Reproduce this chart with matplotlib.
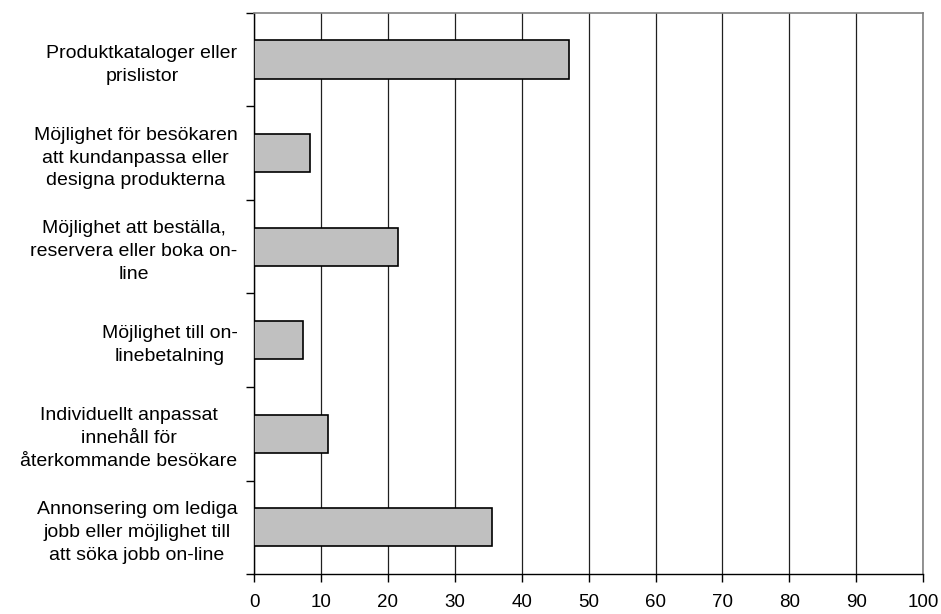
import matplotlib
matplotlib.use("Agg")
import matplotlib.pyplot as plt
import numpy as np

# Categories (top to bottom) and percentage values
categories = [
  "Produktkataloger eller\nprislistor",
  "Möjlighet för besökaren\natt kundanpassa eller\ndesigna produkterna",
  "Möjlighet att beställa,\nreservera eller boka on-\nline",
  "Möjlighet till on-\nlinebetalning",
  "Individuellt anpassat\ninnehåll för\nåterkommande besökare",
  "Annonsering om lediga\njobb eller möjlighet till\natt söka jobb on-line",
]
values = [47.0, 8.4, 21.5, 7.3, 11.1, 35.5]
xticks = [0, 10, 20, 30, 40, 50, 60, 70, 80, 90, 100]

plt.rcParams['font.family'] = ['Liberation Sans', 'DejaVu Sans']

fig = plt.figure(figsize=(9.41, 6.14), dpi=100)
ax = fig.add_axes([0.270, 0.065, 0.711, 0.914])

y = np.arange(len(categories))
ax.barh(y, values, height=0.41, color="#c0c0c0", edgecolor="black", linewidth=1.2, zorder=3)

ax.set_xlim(0, 100)
ax.set_ylim(len(categories) - 0.5, -0.5)
ax.set_xticks(xticks)
ax.set_xticklabels([str(t) for t in xticks], fontsize=13.5)
ax.xaxis.grid(True, color="#202020", linewidth=0.9, zorder=0)

ax.set_yticks(y)
ax.set_yticklabels(categories, fontsize=14, multialignment="center", linespacing=1.45)
ax.set_yticks(np.arange(len(categories) + 1) - 0.5, minor=True)
ax.tick_params(axis="y", which="major", length=0, pad=12)
ax.tick_params(axis="y", which="minor", length=6, width=1, direction="out")
ax.tick_params(axis="x", length=6, width=1, direction="out", pad=8)

for s in ["top", "right"]:
  ax.spines[s].set_color("#808080")
  ax.spines[s].set_linewidth(1.2)
for s in ["left", "bottom"]:
  ax.spines[s].set_color("black")
  ax.spines[s].set_linewidth(1.0)

fig.savefig("out.png", dpi=100)
